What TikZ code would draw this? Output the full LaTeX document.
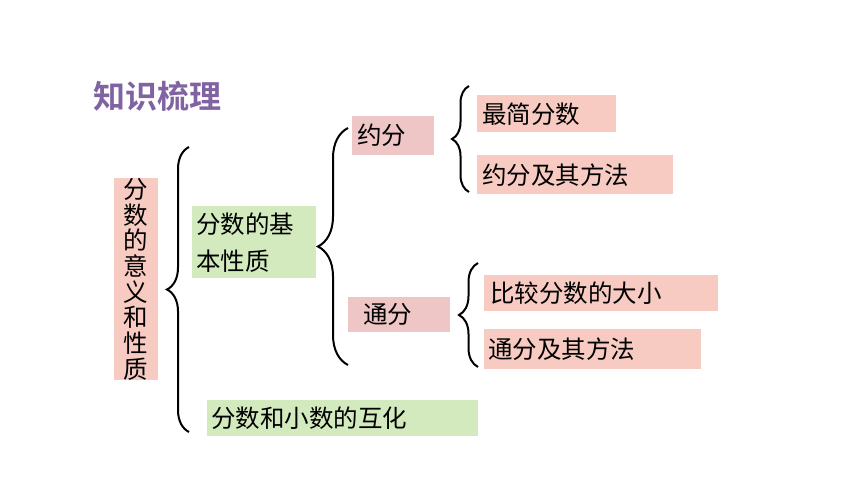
\documentclass[tikz,border=0pt]{standalone}
\usepackage{fontspec}
\newfontfamily\cjk{Noto Sans CJK SC}[BoldFont={Noto Sans CJK SC Bold}]
\usetikzlibrary{decorations.pathreplacing}
\definecolor{titlepurple}{RGB}{128,100,162}
\definecolor{boxpink}{RGB}{248,203,194}
\definecolor{boxrose}{RGB}{239,198,198}
\definecolor{boxgreen}{RGB}{211,234,190}

\begin{document}
\begin{tikzpicture}[x=1pt, y=-1pt,
  font=\cjk\fontsize{24.5}{30}\selectfont,
  box/.style={
    anchor=north west,
    inner ysep=0pt,
    align=left
  },
  pinkbox/.style={box, fill=boxpink},
  rosebox/.style={box, fill=boxrose},
  greenbox/.style={box, fill=boxgreen},
  curly/.style={decorate, decoration={brace, amplitude=#1}, line width=2pt}
  ]
\useasboundingbox (0,0) rectangle (860,484);

% Title
\node[anchor=west, inner sep=0pt, text=titlepurple,
  font=\cjk\bfseries\fontsize{32}{32}\selectfont] (title) at (93,96) {知识梳理};

% Boxes
\node[pinkbox, inner xsep=0pt, text width=44pt, align=center, minimum height=201pt,
  font=\cjk\fontsize{24.5}{25.7}\selectfont] (meaning) at (114,178)
  {分\\数\\的\\意\\义\\和\\性\\质};
\node[greenbox, inner xsep=4pt, text width=116pt, minimum height=72pt,
  font=\cjk\fontsize{24.5}{37}\selectfont] (basic) at (192,206) {分数的基\\本性质};
\node[greenbox, inner xsep=4pt, text width=263pt, minimum height=36pt] (convert) at (207,400) {分数和小数的互化};
\node[rosebox, inner xsep=5pt, text width=72pt, minimum height=39pt] (reduce) at (352,116) {约分};
\node[rosebox, inner xsep=0pt, text width=102pt, minimum height=35pt] (common) at (348,297) {\hspace{15pt}通分};
\node[pinkbox, inner xsep=5pt, text width=129pt, minimum height=37pt] (simplest) at (477,95) {最简分数};
\node[pinkbox, inner xsep=5pt, text width=186pt, minimum height=39pt] (reducemeth) at (477,155) {约分及其方法};
\node[pinkbox, inner xsep=6pt, text width=222pt, minimum height=36pt] (compare) at (484,275) {比较分数的大小};
\node[pinkbox, inner xsep=4pt, text width=209pt, minimum height=40pt] (commonmeth) at (484,329) {通分及其方法};

% Brace ends
\coordinate (b1bot) at (189,432);
\coordinate (b1top) at (189,147);
\coordinate (b2bot) at (348,365);
\coordinate (b2top) at (348,128);
\coordinate (b3bot) at (469,192);
\coordinate (b3top) at (469,86);
\coordinate (b4bot) at (478,367);
\coordinate (b4top) at (478,263);

% Braces
\draw[curly=22pt] (b1bot) -- (b1top);
\draw[curly=30pt] (b2bot) -- (b2top);
\draw[curly=17pt] (b3bot) -- (b3top);
\draw[curly=19pt] (b4bot) -- (b4top);

\end{tikzpicture}
\end{document}
